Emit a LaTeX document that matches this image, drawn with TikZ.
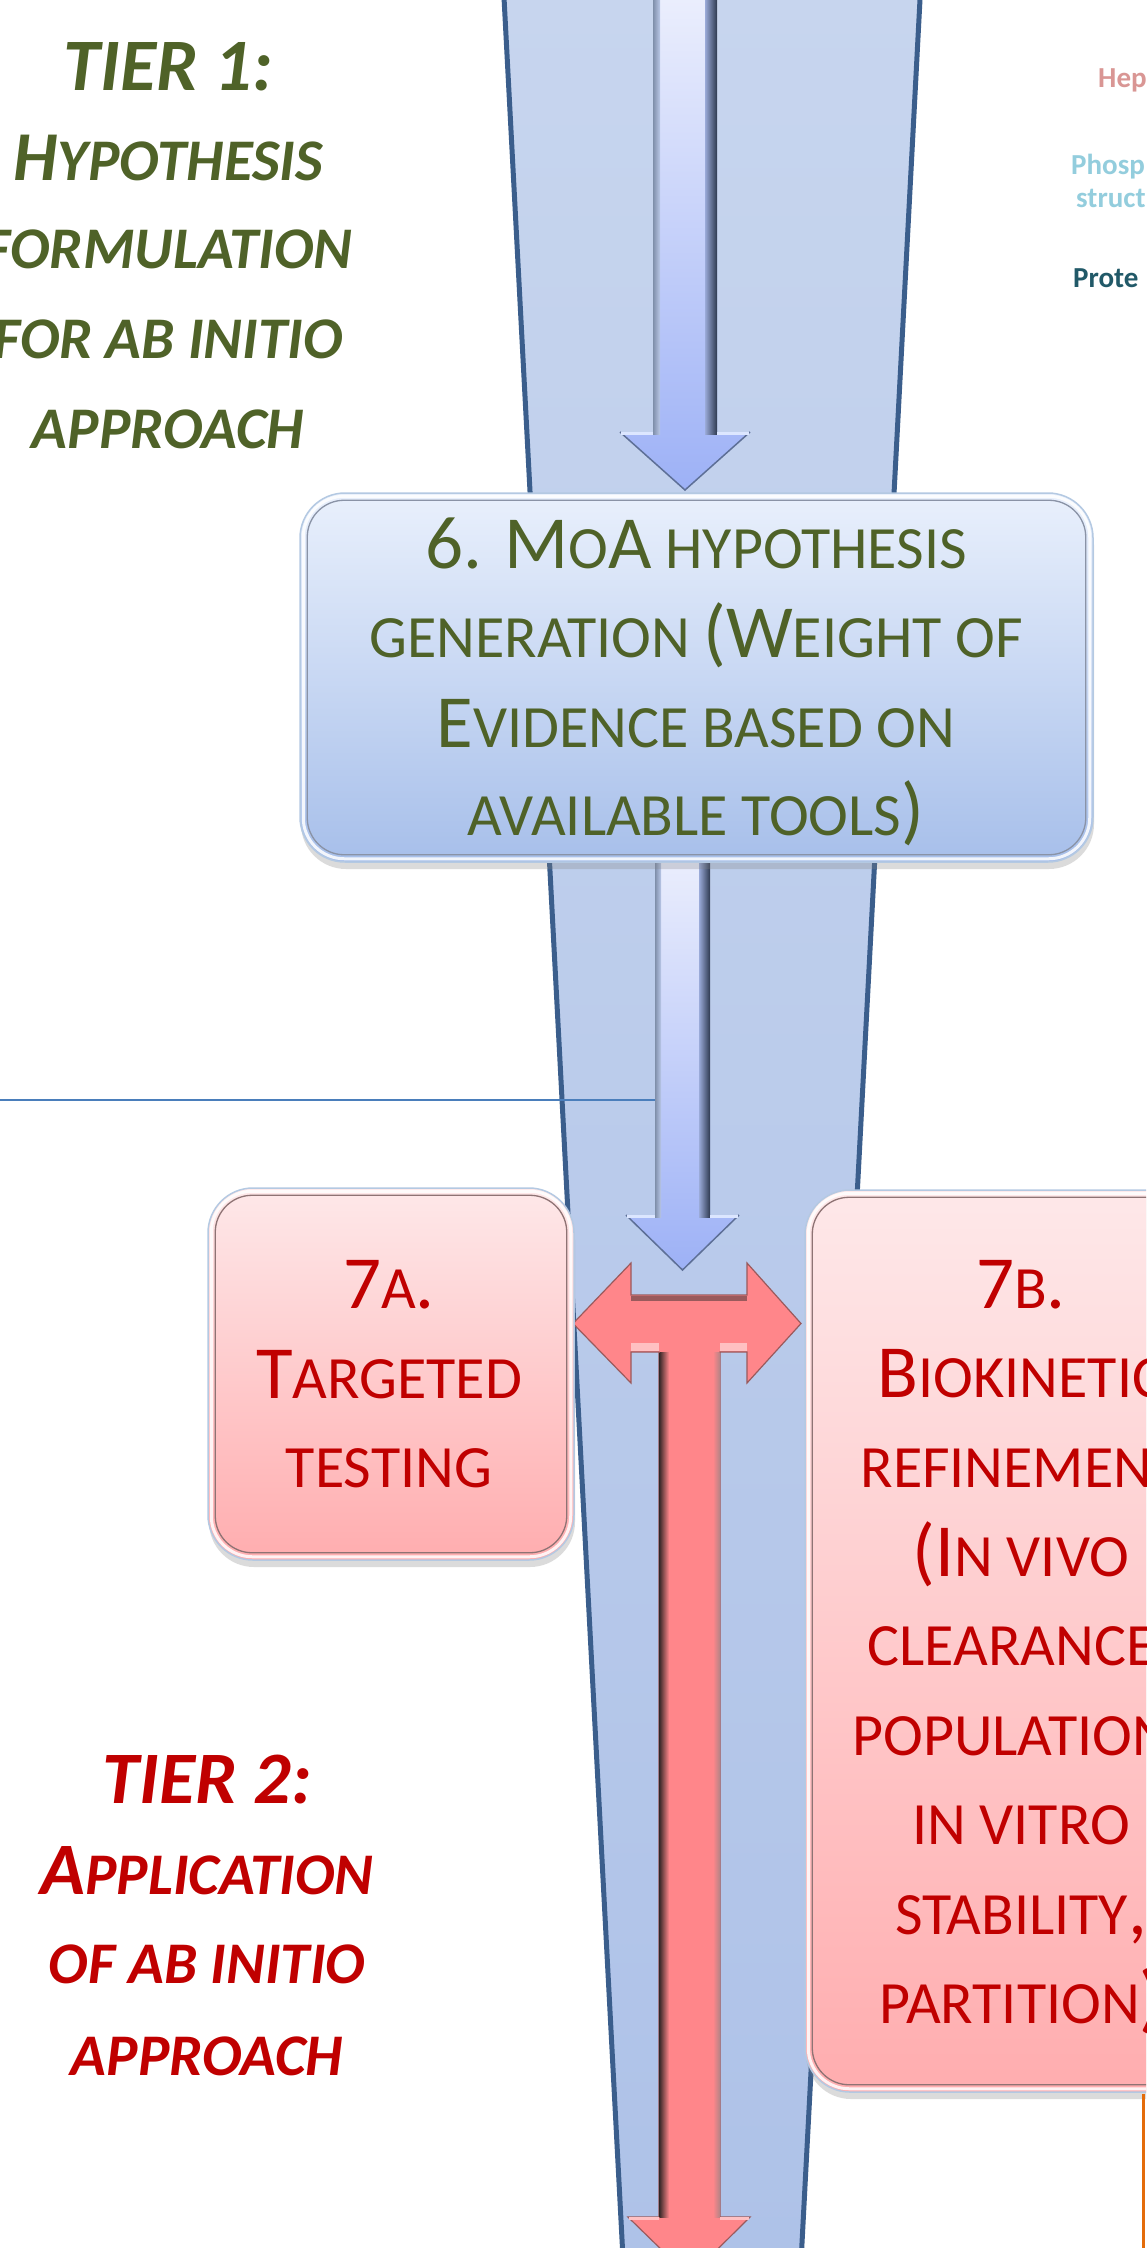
\documentclass[tikz,border=0pt]{standalone}
\usepackage{fontspec}
\setmainfont{Carlito}
\usetikzlibrary{shadows,calc}

\definecolor{funnelE}{HTML}{3B5E8C}
\definecolor{funnelT}{HTML}{C7D5EE}
\definecolor{funnelB}{HTML}{AEC2E8}
\definecolor{olivetxt}{HTML}{4F6228}
\definecolor{redtxt}{HTML}{C00000}
\definecolor{bsixT}{HTML}{E9F0FC}
\definecolor{bsixB}{HTML}{A7BFEA}
\definecolor{pinkT}{HTML}{FEE8E9}
\definecolor{pinkB}{HTML}{FFADAF}
\definecolor{arrT}{HTML}{ECEFFD}
\definecolor{arrB}{HTML}{9DB1F6}
\definecolor{arrL}{HTML}{7F8FAA}
\definecolor{arrLi}{HTML}{BAC8E8}
\definecolor{arrRi}{HTML}{9AAAD8}
\definecolor{arrR}{HTML}{2E3A50}
\definecolor{arrEdge}{HTML}{5D6F96}
\definecolor{arrHi}{HTML}{DCE6FF}
\definecolor{redarr}{HTML}{FF868A}
\definecolor{redDark}{HTML}{3E2B2B}
\definecolor{redGrey}{HTML}{B88486}
\definecolor{redEdge}{HTML}{9A5A5C}
\definecolor{redHi}{HTML}{FFC0C2}
\definecolor{thinblue}{HTML}{4A7EBB}
\definecolor{hepc}{HTML}{D99694}
\definecolor{phosc}{HTML}{93CDDD}
\definecolor{protc}{HTML}{215968}
\definecolor{orangeline}{HTML}{E46C0A}
\definecolor{boxOutBlue}{HTML}{B4C9E2}
\definecolor{boxInGrey}{HTML}{8A93A6}
\definecolor{boxInRed}{HTML}{8E7374}

\newcommand\capbig[1]{{\fontsize{75}{90}\selectfont #1}}
\newcommand\capsm[1]{{\fontsize{60}{90}\selectfont #1}}
\newcommand\tierbig[1]{{\fontsize{74}{90}\selectfont #1}}
\newcommand\tiermid[1]{{\fontsize{70}{90}\selectfont #1}}
\newcommand\tiersm[1]{{\fontsize{59}{90}\selectfont #1}}

\tikzset{
  funnel/.style={top color=funnelT, bottom color=funnelB, draw=funnelE, line width=5pt, line join=round},
  bluearr/.style={top color=arrT, bottom color=arrB},
  redarrow/.style={fill=redarr, draw=redEdge, line width=1.2pt, line join=miter},
  boxsix/.style={rounded corners=45pt, top color=bsixT, bottom color=bsixB, draw=boxOutBlue, line width=1.5pt,
    drop shadow={opacity=0.28, shadow xshift=1pt, shadow yshift=-7pt}},
  boxpink/.style={rounded corners=45pt, top color=pinkT, bottom color=pinkB, draw=boxOutBlue, line width=1.5pt,
    drop shadow={opacity=0.28, shadow xshift=1pt, shadow yshift=-7pt}},
  hiline/.style={white, line width=3pt, opacity=0.85},
  inlinesix/.style={boxInGrey, line width=1.3pt},
  inlinered/.style={boxInRed, line width=1.3pt},
  txtgreen/.style={anchor=base, inner sep=0pt, text=olivetxt},
  txtred/.style={anchor=base, inner sep=0pt, text=redtxt},
  tiergreen/.style={anchor=base, inner sep=0pt, text=olivetxt, font=\bfseries\itshape},
  tierred/.style={anchor=base, inner sep=0pt, text=redtxt, font=\bfseries\itshape},
  sidelabel/.style={anchor=base west, inner sep=0pt, font=\bfseries\fontsize{29}{34}\selectfont},
}

\begin{document}
\begin{tikzpicture}[x=1pt,y=-1pt]
\useasboundingbox (0,0) rectangle (1146,2248);
\clip (0,0) rectangle (1146,2248);
\fill[white] (0,0) rectangle (1146,2248);

% funnel
\path[funnel] (503.5,-12) -- (920.6,-12) -- (801,2262) -- (623.2,2262) -- cycle;

% thin horizontal line
\coordinate (lineL) at (0,1100);
\coordinate (lineR) at (655,1100);
\draw[thinblue, line width=2pt] (lineL) -- (lineR);

% top blue arrow
\path[bluearr] (653,-10) -- (717,-10) -- (717,432) -- (750,432) -- (685,490) -- (620,432) -- (653,432) -- cycle;
\fill[left color=arrL, right color=arrLi] (653,-10) rectangle (660,434);
\fill[left color=arrRi, right color=arrR] (705,-10) rectangle (717,434);
\draw[arrEdge, line width=1.5pt] (620,432) -- (685,490) -- (750,432);
\draw[arrHi, line width=3pt] (621,433) -- (653,433) (717,433) -- (749,433);

% second blue arrow
\path[bluearr] (655,850) -- (710,850) -- (710,1215) -- (739,1215) -- (682.5,1270) -- (626,1215) -- (655,1215) -- cycle;
\fill[left color=arrL, right color=arrLi] (655,850) rectangle (661,1217);
\fill[left color=arrRi, right color=arrR] (699,850) rectangle (710,1217);
\draw[arrEdge, line width=1.5pt] (626,1215) -- (682.5,1270) -- (739,1215);
\draw[arrHi, line width=3pt] (627,1216) -- (655,1216) (710,1216) -- (738,1216);

% red T arrow
\path[redarrow] (573,1323.5) -- (631,1263) -- (631,1295) -- (747,1295) -- (747,1263) -- (801,1323.5)
  -- (747,1383) -- (747,1352) -- (720,1352) -- (720,2217) -- (750,2217) -- (689.5,2277)
  -- (628,2217) -- (659,2217) -- (659,1352) -- (631,1352) -- (631,1383) -- cycle;
\fill[left color=redDark, right color=redarr] (659.6,1352) rectangle (669,2217);
\fill[left color=redarr, right color=redGrey] (713,1352) rectangle (719.4,2217);
\fill[redEdge] (631,1295.6) rectangle (747,1301);
\fill[redHi] (631,1343) rectangle (659,1351);
\fill[redHi] (720,1343) rectangle (747,1351);
\draw[redHi, line width=3pt] (629,2218) -- (659,2218) (720,2218) -- (749,2218);

% box 6
\node[boxsix, minimum width=793pt, minimum height=369pt] (b6) at (696.5,677.5) {};
\draw[hiline, rounded corners=41pt] ($(b6.north west)+(4,4)$) rectangle ($(b6.south east)+(-4,-4)$);
\draw[inlinesix, rounded corners=37pt] ($(b6.north west)+(8,8)$) rectangle ($(b6.south east)+(-8,-8)$);

% box 7a
\node[boxpink, minimum width=366pt, minimum height=372pt] (b7a) at (391,1374) {};
\draw[hiline, rounded corners=41pt] ($(b7a.north west)+(4,4)$) rectangle ($(b7a.south east)+(-4,-4)$);
\draw[inlinered, rounded corners=37pt] ($(b7a.north west)+(8,8)$) rectangle ($(b7a.south east)+(-8,-8)$);

% box 7b
\node[boxpink, minimum width=431pt, minimum height=902pt] (b7b) at (1020.5,1641) {};
\draw[hiline, rounded corners=41pt] ($(b7b.north west)+(4,4)$) rectangle ($(b7b.south east)+(-4,-4)$);
\draw[inlinered, rounded corners=37pt] ($(b7b.north west)+(8,8)$) rectangle ($(b7b.south east)+(-8,-8)$);

% orange line
\coordinate (orA) at (1143,2094);
\coordinate (orB) at (1143,2260);
\draw[orangeline, line width=3pt] (orA) -- (orB);

% box 6 text
\node[txtgreen] (s6a) at (696,568) {\capbig{6. M}\capsm{O}\capbig{A}\capsm{ HYPOTHESIS}};
\node[txtgreen] (s6b) at (696,657) {\capsm{GENERATION }\capbig{(W}\capsm{EIGHT OF}};
\node[txtgreen] (s6c) at (696,747) {\capbig{E}\capsm{VIDENCE BASED ON}};
\node[txtgreen] (s6d) at (696,835) {\capsm{AVAILABLE TOOLS}\capbig{)}};

% box 7a text
\node[txtred] (s7aa) at (389,1308) {\capbig{7}\capsm{A}\capbig{.}};
\node[txtred] (s7ab) at (389,1398) {\capbig{T}\capsm{ARGETED}};
\node[txtred] (s7ac) at (389,1487) {\capsm{TESTING}};

% box 7b text
\node[txtred] (s7ba) at (1021,1308) {\capbig{7}\capsm{B}\capbig{.}};
\node[txtred] (s7bb) at (1021,1397) {\capbig{B}\capsm{IOKINETIC}};
\node[txtred] (s7bc) at (1021,1487) {\capsm{REFINEMENT}};
\node[txtred] (s7bd) at (1021,1576) {\capbig{(I}\capsm{N VIVO}};
\node[txtred] (s7be) at (1021,1665) {\capsm{CLEARANCE}\capbig{,}};
\node[txtred] (s7bf) at (1021,1755) {\capsm{POPULATION}\capbig{,}};
\node[txtred] (s7bg) at (1021,1844) {\capsm{IN VITRO}};
\node[txtred] (s7bh) at (1021,1934) {\capsm{STABILITY}\capbig{,}};
\node[txtred] (s7bi) at (1021,2023) {\capsm{PARTITION}\capbig{)}};

% tier 1
\node[tiergreen] (t1a) at (168,90) {\tierbig{TIER 1:}};
\node[tiergreen] (t1b) at (168,180) {\tiermid{H}\tiersm{YPOTHESIS}};
\node[tiergreen] (t1c) at (168,268) {\tiersm{FORMULATION}};
\node[tiergreen] (t1d) at (168,358) {\tiersm{FOR AB INITIO}};
\node[tiergreen] (t1e) at (168,448) {\tiersm{APPROACH}};

% tier 2
\node[tierred] (t2a) at (207,1803) {\tierbig{TIER 2:}};
\node[tierred] (t2b) at (207,1894) {\tierbig{A}\tiersm{PPLICATION}};
\node[tierred] (t2c) at (207,1983) {\tiersm{OF AB INITIO}};
\node[tierred] (t2d) at (207,2075) {\tiersm{APPROACH}};

% side labels (cut at right edge)
\node[sidelabel, text=hepc] (lhep) at (1098,87) {Hep};
\node[sidelabel, text=phosc] (lphos) at (1071,174) {Phosp};
\node[sidelabel, text=phosc] (lstru) at (1076,207) {struct};
\node[sidelabel, text=protc] (lprot) at (1073,287) {Prote};
\end{tikzpicture}
\end{document}
